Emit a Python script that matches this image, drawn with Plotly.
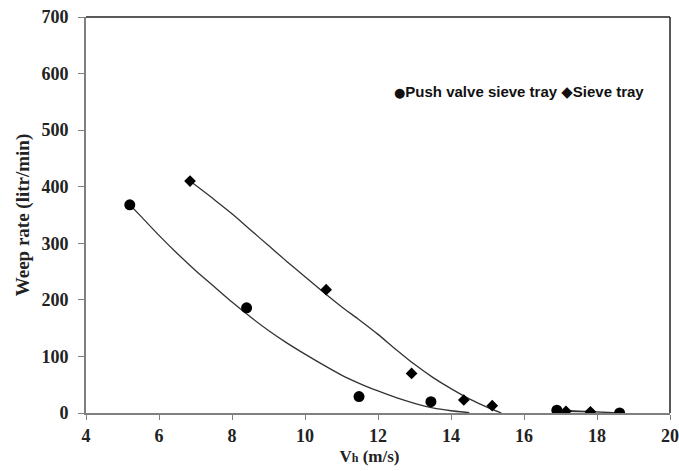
import plotly.graph_objects as go

# Data points
push_x = [5.2, 8.4, 11.48, 13.45, 16.9, 18.62]
push_y = [368, 186, 29, 20, 5, 0]

sieve_x = [6.85, 10.58, 12.92, 14.35, 15.13, 17.15, 17.82]
sieve_y = [410, 218, 70, 23, 13, 3, 2]

# Trend curves
push_curve_x = [5.2, 5.5, 6.0, 6.5, 7.0, 7.5, 8.0, 8.5, 9.0, 9.5, 10.0,
                10.5, 11.0, 11.5, 12.0, 12.5, 13.0, 13.5, 14.0, 14.5]
push_curve_y = [368, 348, 314, 282, 252, 224, 196, 170, 146, 124, 104,
                85, 67, 52, 39, 27, 17, 9, 4, 0.5]

sieve_curve_x = [6.85, 7.5, 8.0, 8.5, 9.0, 9.5, 10.0, 10.5, 11.0, 11.5,
                 12.0, 12.5, 13.0, 13.5, 14.0, 14.5, 15.0, 15.38]
sieve_curve_y = [410, 378, 352, 324, 296, 268, 241, 214, 188, 164,
                 139, 112, 86, 63, 43, 25, 10, 0]

# Straight connecting segments at the tail
push_tail_x = [16.9, 18.62]
push_tail_y = [5, 0]
sieve_tail_x = [17.15, 17.82]
sieve_tail_y = [3, 2]

x_ticks = [4, 6, 8, 10, 12, 14, 16, 18, 20]
y_ticks = [0, 100, 200, 300, 400, 500, 600, 700]

series_names = ["Push valve sieve tray", "Sieve tray"]

line_style = dict(color="#333333", width=1.3)

fig = go.Figure()
fig.add_trace(go.Scatter(x=push_curve_x, y=push_curve_y, mode="lines",
                         line=dict(shape="spline", smoothing=0.8, **line_style),
                         showlegend=False, hoverinfo="skip"))
fig.add_trace(go.Scatter(x=sieve_curve_x, y=sieve_curve_y, mode="lines",
                         line=dict(shape="spline", smoothing=0.8, **line_style),
                         showlegend=False, hoverinfo="skip"))
fig.add_trace(go.Scatter(x=push_tail_x, y=push_tail_y, mode="lines",
                         line=line_style, showlegend=False, hoverinfo="skip"))
fig.add_trace(go.Scatter(x=sieve_tail_x, y=sieve_tail_y, mode="lines",
                         line=line_style, showlegend=False, hoverinfo="skip"))
fig.add_trace(go.Scatter(x=push_x, y=push_y, mode="markers",
                         name=series_names[0], showlegend=False,
                         marker=dict(symbol="circle", size=11, color="black")))
fig.add_trace(go.Scatter(x=sieve_x, y=sieve_y, mode="markers",
                         name=series_names[1], showlegend=False,
                         marker=dict(symbol="diamond", size=9, color="black")))

axis_font = dict(family="Liberation Serif", size=18, color="#222222")
title_font = dict(family="Liberation Serif", size=17, color="#222222")

fig.update_layout(
    width=679, height=471,
    margin=dict(l=86, r=9, t=17, b=58),
    paper_bgcolor="white", plot_bgcolor="white",
    font=dict(family="Liberation Serif"),
    showlegend=False,
    xaxis=dict(range=[4, 20], tickvals=x_ticks, ticktext=[str(v) for v in x_ticks],
               showgrid=False, zeroline=False, automargin=False,
               ticklabeloverflow="allow",
               showline=True, linecolor="#808080", linewidth=2,
               ticks="outside", ticklen=5, tickcolor="#808080", tickwidth=1,
               tickfont=dict(weight="bold", **axis_font),
               title=dict(text="V<span style='font-size:12px'>h</span> (m/s)&nbsp;&nbsp;&nbsp;&nbsp;",
                          font=dict(weight="bold", **title_font), standoff=6)),
    yaxis=dict(range=[0, 700], tickvals=y_ticks, ticktext=[str(v) for v in y_ticks],
               showgrid=False, zeroline=False, automargin=False,
               ticklabeloverflow="allow",
               showline=True, linecolor="#808080", linewidth=2,
               ticks="outside", ticklen=6, tickcolor="#808080", tickwidth=1,
               ticklabelstandoff=6,
               tickfont=dict(weight="bold", **axis_font),
               title=dict(text="Weep rate (litr/min)",
                          font=dict(weight="bold", family="Liberation Serif",
                                    size=19, color="#222222"), standoff=7)),
)

# legend drawn as text (matching the compact legend of the original)
fig.add_annotation(xref="paper", yref="paper", x=0.524, y=0.81,
                   xanchor="left", yanchor="middle", showarrow=False,
                   text="<span style='font-family:DejaVu Sans;font-size:13px'>\u25cf</span>"
                        + series_names[0]
                        + " <span style='font-family:DejaVu Sans;font-size:15px'>\u25c6</span>"
                        + series_names[1],
                   font=dict(family="Liberation Sans", size=15, color="#111111",
                             weight="bold"))

# top and right frame lines
fig.add_shape(type="line", xref="paper", yref="paper", x0=0, x1=1, y0=1, y1=1,
              line=dict(color="#222222", width=1.5))
fig.add_shape(type="line", xref="paper", yref="paper", x0=1, x1=1, y0=0, y1=1,
              line=dict(color="#222222", width=1.5))

# remove the default page margin so the figure fills the window exactly
fig.write_html("out.html",
               config={"displayModeBar": False},
               post_script="document.body.style.margin='0';"
                           "document.body.style.overflow='hidden';")
